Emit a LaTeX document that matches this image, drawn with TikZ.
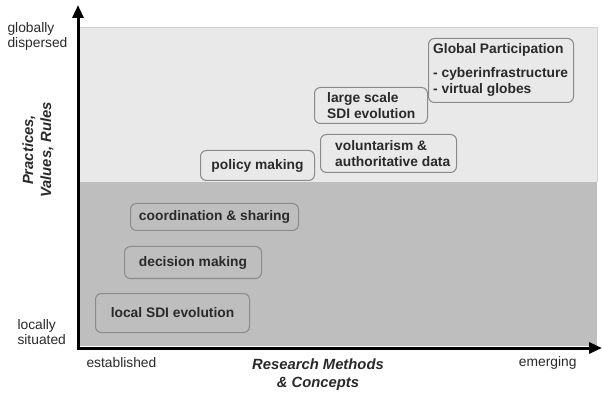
\documentclass[tikz,border=0pt]{standalone}
\usepackage{fontspec}
\setmainfont{Liberation Sans}
\usetikzlibrary{arrows.meta}
\definecolor{lightbg}{HTML}{E9E9E9}
\definecolor{darkbg}{HTML}{BEBEBE}
\definecolor{boxline}{HTML}{8A8A8A}
\definecolor{txt}{HTML}{2A2A2A}
\tikzset{
  box/.style={draw=boxline, rounded corners=6pt, line width=1pt, anchor=north west,
    font=\bfseries\fontsize{13.8}{15.5}\selectfont, text=txt},
  boxtext/.style={anchor=west, inner sep=0pt, align=left,
    font=\bfseries\fontsize{13.8}{15.5}\selectfont, text=txt},
  axislabel/.style={font=\fontsize{13.8}{15}\selectfont, text=txt, align=left},
  axistitle/.style={font=\bfseries\itshape\fontsize{14.8}{18}\selectfont, text=txt, align=center},
  axisline/.style={line width=3pt, -{Triangle[width=11pt,length=13pt]}}
}
\begin{document}
\begin{tikzpicture}[x=1pt,y=-1pt]
\useasboundingbox (0,0) rectangle (602,395);
\fill[white] (0,0) rectangle (602,395);
% backgrounds
\fill[lightbg] (80,27) rectangle (597,182);
\draw[black!18, line width=0.6pt] (80,27) -- (597,27) -- (597,182);
\fill[darkbg] (80,182) rectangle (597,346);
% multi-line boxes
\node[box, fill=lightbg, minimum width=145pt, minimum height=64pt] (gp) at (428,38) {};
\node[boxtext] (gpt) at ([xshift=5pt,yshift=1pt]gp.west)
  {Global Participation\\[9pt]- cyberinfrastructure\\- virtual globes};
\node[box, fill=lightbg, minimum width=113pt, minimum height=36pt] (ls) at (314,87) {};
\node[boxtext] (lst) at ([xshift=13pt]ls.west) {large scale\\SDI evolution};
\node[box, fill=lightbg, minimum width=136pt, minimum height=38pt] (vol) at (320,134) {};
\node[boxtext] (volt) at ([xshift=15pt]vol.west) {voluntarism \&\\authoritative data};
% single-line boxes
\node[box, fill=lightbg, minimum width=114pt, minimum height=30pt] (pm) at (200,150) {policy making};
\node[box, fill=darkbg, minimum width=168pt, minimum height=27pt] (cs) at (130,203) {coordination \& sharing};
\node[box, fill=darkbg, minimum width=137pt, minimum height=32pt] (dm) at (124,246) {decision making};
\node[box, fill=darkbg, minimum width=154pt, minimum height=39pt] (lsdi) at (95,293) {local SDI evolution};
% axes
\coordinate (ybase) at (78,349.5);
\coordinate (xbase) at (76.5,348);
\coordinate (ytip) at (78,5);
\coordinate (xtip) at (602,348);
\draw[axisline] (ybase) -- (ytip);
\draw[axisline] (xbase) -- (xtip);
% axis labels
\node[axislabel, anchor=west] (gd) at (4,36) {globally\\dispersed};
\node[axislabel, anchor=west] (lsit) at (14,332) {locally\\situated};
\node[axislabel, anchor=west] (est) at (83,363) {established};
\node[axislabel, anchor=east] (em) at (580,363) {emerging};
\node[axistitle, rotate=90] (yt) at (38,150) {Practices,\\Values, Rules};
\node[axistitle] (xt) at (318,375) {Research Methods\\\& Concepts};
\end{tikzpicture}
\end{document}
